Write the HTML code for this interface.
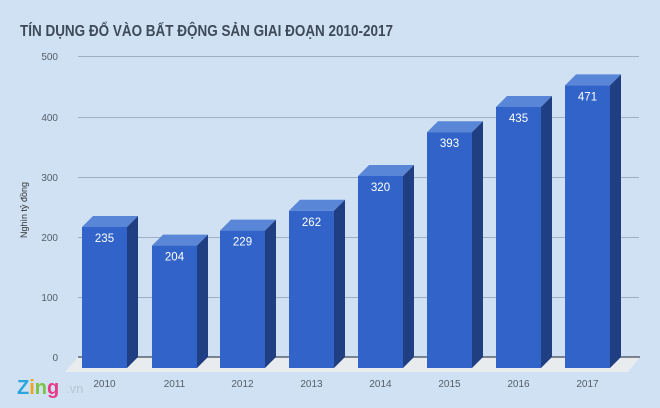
<!DOCTYPE html>
<html><head><meta charset="utf-8"><style>
body{margin:0;background:#cfe1f2;}
svg{display:block;font-family:"Liberation Sans",sans-serif;}
</style></head><body>
<svg width="660" height="408" viewBox="0 0 660 408">
<rect width="660" height="408" fill="#cfe1f2"/>
<text x="20" y="36" font-size="16" font-weight="bold" fill="#3e4a5a" textLength="373" lengthAdjust="spacingAndGlyphs">TÍN DỤNG ĐỔ VÀO BẤT ĐỘNG SẢN GIAI ĐOẠN 2010-2017</text>
<g stroke="#9fb0c4" stroke-width="1">
<line x1="78" y1="56.5" x2="639" y2="56.5"/>
<line x1="78" y1="117.5" x2="639" y2="117.5"/>
<line x1="78" y1="177.5" x2="639" y2="177.5"/>
<line x1="78" y1="237.5" x2="639" y2="237.5"/>
<line x1="78" y1="297.5" x2="639" y2="297.5"/>
</g>
<polygon points="78,357 640,357 628,372 65,372" fill="#e9ecef"/>
<line x1="78" y1="357" x2="640" y2="357" stroke="#5a6270" stroke-width="1.5"/>
<g font-size="10" fill="#555e6a" text-anchor="end">
<text x="58" y="60">500</text><text x="58" y="121">400</text><text x="58" y="181">300</text>
<text x="58" y="241">200</text><text x="58" y="301">100</text><text x="58" y="361">0</text>
</g>
<text transform="translate(27,210) rotate(-90)" font-size="9" fill="#333" text-anchor="middle">Nghìn tỷ đồng</text>
<g>
<polygon points="82,227 93,216 138,216 127,227" fill="#5a86d8"/><polygon points="127,227 138,216 138,357 127,368" fill="#1f3f82"/><rect x="82" y="227" width="45" height="141" fill="#3163c9"/>
<polygon points="152,245.6 163,234.6 208,234.6 197,245.6" fill="#5a86d8"/><polygon points="197,245.6 208,234.6 208,357 197,368" fill="#1f3f82"/><rect x="152" y="245.6" width="45" height="122.4" fill="#3163c9"/>
<polygon points="220,230.6 231,219.6 276,219.6 265,230.6" fill="#5a86d8"/><polygon points="265,230.6 276,219.6 276,357 265,368" fill="#1f3f82"/><rect x="220" y="230.6" width="45" height="137.4" fill="#3163c9"/>
<polygon points="289,210.8 300,199.8 345,199.8 334,210.8" fill="#5a86d8"/><polygon points="334,210.8 345,199.8 345,357 334,368" fill="#1f3f82"/><rect x="289" y="210.8" width="45" height="157.2" fill="#3163c9"/>
<polygon points="358,176 369,165 414,165 403,176" fill="#5a86d8"/><polygon points="403,176 414,165 414,357 403,368" fill="#1f3f82"/><rect x="358" y="176" width="45" height="192" fill="#3163c9"/>
<polygon points="427,132.2 438,121.2 483,121.2 472,132.2" fill="#5a86d8"/><polygon points="472,132.2 483,121.2 483,357 472,368" fill="#1f3f82"/><rect x="427" y="132.2" width="45" height="235.8" fill="#3163c9"/>
<polygon points="496,107 507,96 552,96 541,107" fill="#5a86d8"/><polygon points="541,107 552,96 552,357 541,368" fill="#1f3f82"/><rect x="496" y="107" width="45" height="261" fill="#3163c9"/>
<polygon points="565,85.4 576,74.4 621,74.4 610,85.4" fill="#5a86d8"/><polygon points="610,85.4 621,74.4 621,357 610,368" fill="#1f3f82"/><rect x="565" y="85.4" width="45" height="282.6" fill="#3163c9"/>
</g>
<g font-size="11.5" fill="#fff" text-anchor="middle">
<text x="104.5" y="242">235</text><text x="174.5" y="260.6">204</text><text x="242.5" y="245.6">229</text><text x="311.5" y="225.8">262</text>
<text x="380.5" y="191">320</text><text x="449.5" y="147.2">393</text><text x="518.5" y="122">435</text><text x="587.5" y="100.4">471</text>
</g>
<g font-size="10" fill="#555e6a" text-anchor="middle">
<text x="104.5" y="387">2010</text><text x="174.5" y="387">2011</text><text x="242.5" y="387">2012</text><text x="311.5" y="387">2013</text>
<text x="380.5" y="387">2014</text><text x="449.5" y="387">2015</text><text x="518.5" y="387">2016</text><text x="587.5" y="387">2017</text>
</g>
<text x="17" y="394" font-size="20" font-weight="bold" fill="#2aa6dc">Z<tspan fill="#f2a31b">i</tspan><tspan fill="#7cc242">n</tspan><tspan fill="#e8398a">g</tspan></text>
<text x="66" y="393" font-size="13" fill="#b9c6d4">.vn</text>
</svg>
</body></html>
